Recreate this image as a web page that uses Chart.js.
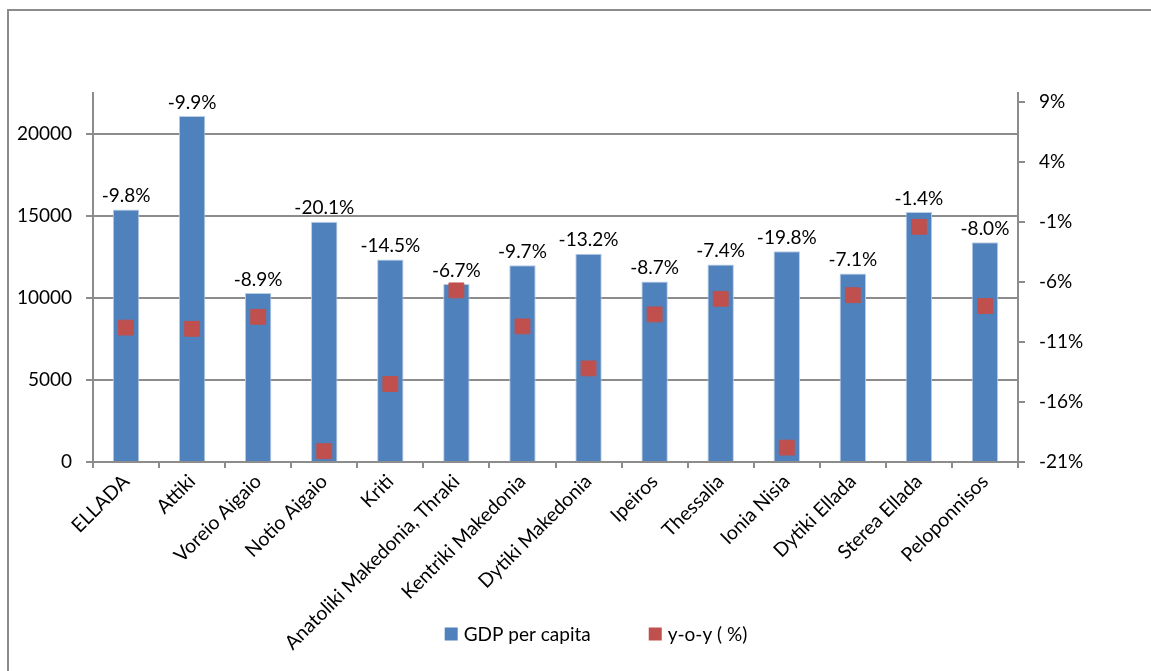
<!DOCTYPE html>
<html>
<head>
<meta charset="utf-8">
<script src="https://cdn.jsdelivr.net/npm/chart.js@4.4.1/dist/chart.umd.min.js"></script>
<style>
  html, body { margin: 0; padding: 0; background: #fff; overflow: hidden; }
  #wrap { width: 1151px; height: 671px; }
  canvas { display: block; }
</style>
</head>
<body>
<div id="wrap"><canvas id="chart" width="1151" height="671"></canvas></div>
<script>
const regions = ['ELLADA', 'Attiki', 'Voreio Aigaio', 'Notio Aigaio', 'Kriti',
  'Anatoliki Makedonia, Thraki', 'Kentriki Makedonia', 'Dytiki Makedonia', 'Ipeiros',
  'Thessalia', 'Ionia Nisia', 'Dytiki Ellada', 'Sterea Ellada', 'Peloponnisos']

const gdpPerCapita = [15400, 21100, 10300, 14650, 12350, 10850, 12000, 12700, 11000, 12050, 12850, 11500, 15250, 13400]

const yoyChange = [-9.8, -9.9, -8.9, -20.1, -14.5, -6.7, -9.7, -13.2, -8.7, -7.4, -19.8, -7.1, -1.4, -8.0]

const gdpTicks = [0, 5000, 10000, 15000, 20000]
const yoyTicks = [-21, -16, -11, -6, -1, 4, 9]

const FONT = 'Lato, "Open Sans", sans-serif'
const GRID = '#8c8c8c'

// frame around the whole chart (only top and left edges are in the picture)
const framePlugin = {
  id: 'frame',
  beforeDraw(chart) {
    const ctx = chart.ctx
    ctx.save()
    ctx.fillStyle = '#fff'
    ctx.fillRect(0, 0, chart.width, chart.height)
    ctx.fillStyle = '#8c8c8c'
    ctx.fillRect(7, 9, 2, chart.height - 9)
    ctx.fillRect(7, 9, chart.width - 7, 2)
    ctx.restore()
  }
}

// y-o-y labels above each bar
const yoyLabels = {
  id: 'yoyLabels',
  afterDatasetsDraw(chart) {
    const ctx = chart.ctx
    const meta = chart.getDatasetMeta(0)
    ctx.save()
    ctx.font = '19px ' + FONT
    ctx.fillStyle = '#000'
    ctx.textAlign = 'center'
    ctx.textBaseline = 'bottom'
    meta.data.forEach((bar, i) => {
      ctx.fillText(yoyChange[i].toFixed(1) + '%', bar.x, bar.y - 4)
    })
    ctx.restore()
  }
}

// legend sits between the rotated category labels, so draw it by hand
const bottomLegend = {
  id: 'bottomLegend',
  afterDraw(chart) {
    const ctx = chart.ctx
    const items = chart.data.datasets.map(ds => ({ text: ds.label, color: ds.backgroundColor }))
    const box = 13, gap = 6, spacing = 58
    ctx.save()
    ctx.font = '19px ' + FONT
    ctx.textBaseline = 'middle'
    ctx.textAlign = 'left'
    const widths = items.map(it => box + gap + ctx.measureText(it.text).width)
    const total = widths.reduce((a, b) => a + b, 0) + spacing * (items.length - 1)
    let x = 596 - total / 2
    const y = 634
    items.forEach((it, i) => {
      ctx.fillStyle = it.color
      ctx.fillRect(x, y - box / 2, box, box)
      ctx.fillStyle = '#000'
      ctx.fillText(it.text, x + box + gap, y + 1)
      x += widths[i] + spacing
    })
    ctx.restore()
  }
}

const ctx = document.getElementById('chart')

new Chart(ctx, {
  data: {
    labels: regions,
    datasets: [
      {
        type: 'bar',
        label: 'GDP per capita',
        data: gdpPerCapita,
        yAxisID: 'y',
        backgroundColor: '#4f81bd',
        borderColor: '#b9cde5',
        borderWidth: 1,
        categoryPercentage: 1,
        barPercentage: 0.4,
        order: 1
      },
      {
        type: 'line',
        label: 'y-o-y ( %)',
        data: yoyChange,
        yAxisID: 'y1',
        showLine: false,
        pointStyle: 'rect',
        pointRadius: 10.5,
        pointHoverRadius: 10.5,
        backgroundColor: '#c0504d',
        borderColor: '#c0504d',
        borderWidth: 1,
        order: 0
      }
    ]
  },
  options: {
    responsive: false,
    animation: false,
    layout: { padding: { top: 93, left: 0, right: 0, bottom: 0 } },
    plugins: {
      tooltip: { enabled: false },
      legend: { display: false }
    },
    scales: {
      x: {
        grid: { offset: true, drawOnChartArea: false, color: GRID, tickLength: 6, lineWidth: 2 },
        border: { color: GRID, width: 2 },
        ticks: {
          minRotation: 45,
          maxRotation: 45,
          autoSkip: false,
          color: '#000',
          padding: 2,
          font: { family: FONT, size: 19.5 }
        },
        afterFit(scale) { scale.height = 209 }
      },
      y: {
        position: 'left',
        min: 0,
        max: 22500,
        grid: { color: GRID, lineWidth: 2, tickLength: 7 },
        border: { color: GRID, width: 2 },
        ticks: {
          color: '#000',
          padding: 14,
          font: { family: FONT, size: 19 },
          callback: v => String(v)
        },
        afterBuildTicks(scale) { scale.ticks = gdpTicks.map(v => ({ value: v })) },
        afterFit(scale) { scale.width = 93 }
      },
      y1: {
        position: 'right',
        min: -21,
        max: 9.75,
        grid: { drawOnChartArea: false, color: GRID, lineWidth: 2, tickLength: 7 },
        border: { color: GRID, width: 2 },
        ticks: {
          color: '#000',
          padding: 14,
          font: { family: FONT, size: 19 },
          callback: v => v + '%'
        },
        afterBuildTicks(scale) { scale.ticks = yoyTicks.map(v => ({ value: v })) },
        afterFit(scale) { scale.width = 133 }
      }
    }
  },
  plugins: [framePlugin, yoyLabels, bottomLegend]
})
</script>
</body>
</html>
